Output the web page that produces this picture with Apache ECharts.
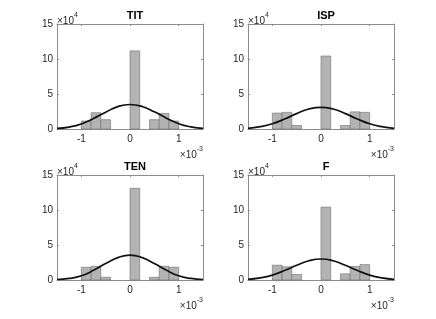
<!DOCTYPE html>
<html>
<head>
<meta charset="utf-8">
<script src="https://cdn.jsdelivr.net/npm/echarts@6/dist/echarts.min.js"></script>
<style>
html,body{margin:0;padding:0;background:#fff;}
#c{width:436px;height:319px;}
</style>
</head>
<body>
<div id="c"></div>
<script>
// Panel titles
const titles = ['TIT', 'ISP', 'TEN', 'F'];
// Histogram bin edges (x 10^-3)
const binEdges = [-1.0, -0.8, -0.6, -0.4, -0.2, 0.0, 0.2, 0.4, 0.6, 0.8, 1.0];
// Bin counts (x 10^4)
const countsTIT = [1.14, 2.33, 1.33, 0, 0, 11.16, 0, 1.33, 2.23, 1.14];
const countsISP = [2.27, 2.38, 0.50, 0, 0, 10.43, 0, 0.50, 2.45, 2.38];
const countsTEN = [1.82, 1.96, 0.39, 0, 0, 13.09, 0, 0.39, 1.96, 1.82];
const countsF   = [2.12, 1.89, 0.79, 0, 0, 10.41, 0, 0.88, 1.93, 2.20];
// Fitted curve samples
const curveX   = [-1.5, -1.25, -1.0, -0.75, -0.5, -0.25, 0, 0.25, 0.5, 0.75, 1.0, 1.25, 1.5];
const curveTIT = [0.09, 0.28, 0.72, 1.50, 2.40, 3.20, 3.50, 3.22, 2.45, 1.55, 0.75, 0.30, 0.10];
const curveISP = [0.10, 0.33, 0.75, 1.42, 2.20, 2.85, 3.10, 2.85, 2.20, 1.42, 0.75, 0.33, 0.10];
const curveTEN = [0.07, 0.22, 0.60, 1.38, 2.35, 3.20, 3.56, 3.20, 2.35, 1.38, 0.60, 0.22, 0.07];
const curveF   = [0.10, 0.30, 0.70, 1.35, 2.10, 2.75, 3.00, 2.75, 2.10, 1.35, 0.70, 0.30, 0.10];
// Axis ticks
const xTicks = [-1, 0, 1];
const yTicks = [0, 5, 10, 15];

const counts = [countsTIT, countsISP, countsTEN, countsF];
const curves = [curveTIT, curveISP, curveTEN, curveF];

const boxes = [
  {left: 57, top: 24},
  {left: 248, top: 24},
  {left: 57, top: 175},
  {left: 248, top: 175}
];
const W = 146, H = 105;
const FONT = 'Liberation Sans, Arial, Helvetica, sans-serif';
const axisCol = '#8c8c8c';
const labCol = '#262626';

const grid = [], xAxis = [], yAxis = [], series = [], title = [], graphic = [];

boxes.forEach((b, i) => {
  grid.push({left: b.left, top: b.top, width: W, height: H, containLabel: false});
  xAxis.push({
    type: 'value', gridIndex: i, min: -1.5, max: 1.5, position: 'bottom',
    axisLine: {show: true, onZero: false, lineStyle: {color: axisCol, width: 1}},
    axisTick: {show: true, inside: true, length: 2, customValues: xTicks, lineStyle: {color: axisCol}},
    axisLabel: {show: true, customValues: xTicks, margin: 5, color: labCol, fontSize: 10, fontFamily: FONT,
      formatter: v => String(v)},
    splitLine: {show: false}
  });
  xAxis.push({
    type: 'value', gridIndex: i, min: -1.5, max: 1.5, position: 'top',
    axisLine: {show: true, onZero: false, lineStyle: {color: axisCol, width: 1}},
    axisTick: {show: true, inside: true, length: 2, customValues: xTicks, lineStyle: {color: axisCol}},
    axisLabel: {show: false},
    splitLine: {show: false}
  });
  yAxis.push({
    type: 'value', gridIndex: i, min: 0, max: 15, interval: 5, position: 'left',
    axisLine: {show: true, onZero: false, lineStyle: {color: axisCol, width: 1}},
    axisTick: {show: true, inside: true, length: 2, lineStyle: {color: axisCol}},
    axisLabel: {show: true, margin: 4, color: labCol, fontSize: 10, fontFamily: FONT},
    splitLine: {show: false}
  });
  yAxis.push({
    type: 'value', gridIndex: i, min: 0, max: 15, interval: 5, position: 'right',
    axisLine: {show: true, onZero: false, lineStyle: {color: axisCol, width: 1}},
    axisTick: {show: true, inside: true, length: 2, lineStyle: {color: axisCol}},
    axisLabel: {show: false},
    splitLine: {show: false}
  });

  const histData = counts[i].map((c, k) => [binEdges[k], binEdges[k + 1], c]);
  series.push({
    type: 'custom', xAxisIndex: 2 * i, yAxisIndex: 2 * i,
    encode: {x: [0, 1], y: 2},
    data: histData,
    renderItem: (params, api) => {
      const h = api.value(2);
      if (!h) return null;
      const a = api.coord([api.value(0), h]);
      const c = api.coord([api.value(1), 0]);
      return {
        type: 'rect',
        shape: {x: a[0], y: a[1], width: c[0] - a[0], height: c[1] - a[1]},
        style: {fill: '#b3b3b3', stroke: '#6e6e6e', lineWidth: 0.6}
      };
    },
    z: 2
  });
  series.push({
    type: 'line', xAxisIndex: 2 * i, yAxisIndex: 2 * i,
    data: curveX.map((x, k) => [x, curves[i][k]]),
    smooth: true, showSymbol: false, symbol: 'none',
    lineStyle: {color: '#111', width: 1.7},
    z: 3
  });

  title.push({
    text: titles[i], left: b.left + W / 2, top: b.top - 19, textAlign: 'center',
    textStyle: {fontSize: 11, fontWeight: 'bold', color: '#000', fontFamily: FONT}
  });

  graphic.push({
    type: 'text', left: b.left, top: b.top - 12,
    style: {
      text: '{a|×10}{s|4}',
      rich: {
        a: {fontSize: 10, fontFamily: FONT, fill: labCol, verticalAlign: 'bottom', padding: [4, 0, 0, 0]},
        s: {fontSize: 7, fontFamily: FONT, fill: labCol, verticalAlign: 'top', padding: [0, 0, 4, 0]}
      }
    }
  });
  graphic.push({
    type: 'text', right: 436 - (b.left + W), top: b.top + H + 17,
    style: {
      text: '{a|×10}{s|-3}',
      rich: {
        a: {fontSize: 10, fontFamily: FONT, fill: labCol, verticalAlign: 'bottom', padding: [4, 0, 0, 0]},
        s: {fontSize: 7, fontFamily: FONT, fill: labCol, verticalAlign: 'top', padding: [0, 0, 4, 0]}
      }
    }
  });
});

const chart = echarts.init(document.getElementById('c'), null, {renderer: 'canvas'});
chart.setOption({
  animation: false,
  backgroundColor: '#fff',
  title, grid, xAxis, yAxis, series, graphic
});
</script>
</body>
</html>
